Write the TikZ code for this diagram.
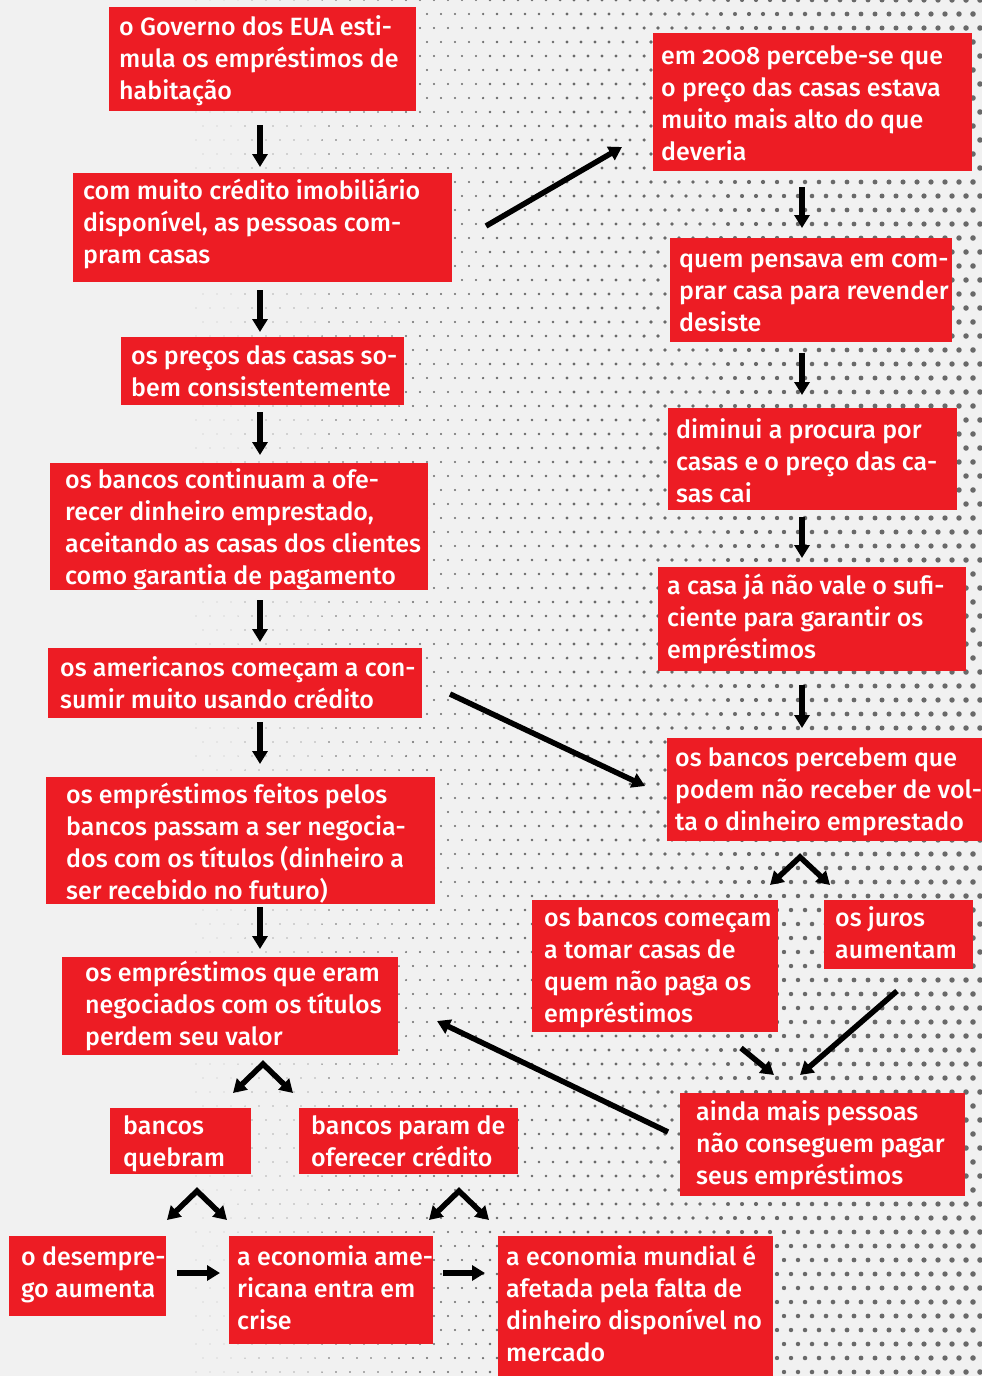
\documentclass[tikz,border=0pt]{standalone}
\usepackage{fontspec}
\setmainfont{Fira Sans}[UprightFont=* Medium, Numbers=OldStyle]
\usetikzlibrary{arrows.meta}
\definecolor{boxred}{RGB}{237,28,36}
\definecolor{bggray}{RGB}{241,241,241}
\definecolor{dotgray}{RGB}{105,105,105}
\tikzset{
  boxnode/.style={fill=boxred, inner sep=0pt, anchor=north west},
  txt/.style={anchor=base west, inner sep=0pt, text=white},
  arr/.style={line width=5.5pt, -{Triangle[width=15pt,length=13pt]}},
  fork/.style={line width=5.5pt, {Triangle[width=15pt,length=13pt]}-{Triangle[width=15pt,length=13pt]}},
}
\newcommand{\bx}[8]{%
  % #1 name, #2 x1, #3 y1, #4 x2, #5 y2, #6 text x, #7 first baseline y, #8 text
  \node[boxnode, minimum width={#4-#2}, minimum height={#5-#3}] (#1) at (#2,#3) {};
  \node[txt] (#1t) at (#6,#7) {\parbox[t]{500pt}{\fontsize{25}{32}\selectfont #8}};
}
\begin{document}
\begin{tikzpicture}[x=1pt,y=-1pt]
\fill[bggray] (0,0) rectangle (982,1376);
\useasboundingbox (0,0) rectangle (982,1376);
% halftone background
\foreach \j in {0,...,98}{
  \foreach \i in {0,...,70}{
    \pgfmathsetmacro\xx{\i*14+mod(\j,2)*7}
    \pgfmathsetmacro\rr{2.8*(\xx-80)/900}
    \ifdim\rr pt>0.35pt
      \fill[dotgray] (\xx,\j*14) circle (\rr pt);
    \fi
  }
}
% left column
\bx{b1}{109}{7}{416}{111}{119}{35}{o Governo dos EUA esti-\\mula os empréstimos de\\habitação}
\bx{b2}{73}{173}{452}{282}{83}{199}{com muito crédito imobiliário\\disponível, as pessoas com-\\pram casas}
\bx{b3}{121}{337}{404}{405}{131}{364}{os preços das casas so-\\bem consistentemente}
\bx{b4}{50}{463}{428}{590}{65}{488}{os bancos continuam a ofe-\\recer dinheiro emprestado,\\aceitando as casas dos clientes\\como garantia de pagamento}
\bx{b5}{48}{648}{422}{718}{60}{676}{os americanos começam a con-\\sumir muito usando crédito}
\bx{b6}{46}{777}{435}{904}{66}{803}{os empréstimos feitos pelos\\bancos passam a ser negocia-\\dos com os títulos (dinheiro a\\ser recebido no futuro)}
\bx{b7}{62}{957}{398}{1055}{85}{981}{os empréstimos que eram\\negociados com os títulos\\perdem seu valor}
\bx{b8}{110}{1108}{251}{1174}{123}{1134}{bancos\\quebram}
\bx{b9}{299}{1108}{518}{1174}{311}{1134}{bancos param de\\oferecer crédito}
\bx{b10}{9}{1236}{166}{1316}{21}{1265}{o desempre-\\go aumenta}
\bx{b11}{229}{1236}{433}{1344}{237}{1265}{a economia ame-\\ricana entra em\\crise}
\bx{b12}{498}{1236}{773}{1376}{506}{1265}{a economia mundial é\\afetada pela falta de\\dinheiro disponível no\\mercado}
% right column
\bx{b13}{653}{33}{972}{171}{661}{64}{em 2008 percebe-se que\\o preço das casas estava\\muito mais alto do que\\deveria}
\bx{b14}{670}{238}{952}{342}{679}{267}{quem pensava em com-\\prar casa para revender\\desiste}
\bx{b15}{668}{408}{957}{510}{676}{438}{diminui a procura por\\casas e o preço das ca-\\sas cai}
\bx{b16}{658}{567}{966}{671}{667}{594}{a casa já não vale o sufi-\\ciente para garantir os\\empréstimos}
\bx{b17}{667}{738}{982}{841}{675}{766}{os bancos percebem que\\podem não receber de vol-\\ta o dinheiro emprestado}
\bx{b18}{532}{900}{778}{1032}{544}{926}{os bancos começam\\a tomar casas de\\quem não paga os\\empréstimos}
\bx{b19}{824}{900}{973}{969}{835}{926}{os juros\\aumentam}
\bx{b20}{680}{1093}{965}{1196}{696}{1120}{ainda mais pessoas\\não conseguem pagar\\seus empréstimos}
% guide coordinates
\coordinate (lx) at (260,0);
\coordinate (rx) at (802,0);
% left vertical arrows
\draw[arr] ([yshift=-14pt]b1.south -| lx) -- ([yshift=6pt]b2.north -| lx);
\draw[arr] ([yshift=-8pt]b2.south -| lx) -- ([yshift=5pt]b3.north -| lx);
\draw[arr] ([yshift=-7pt]b3.south -| lx) -- ([yshift=8pt]b4.north -| lx);
\draw[arr] ([yshift=-10pt]b4.south -| lx) -- ([yshift=6pt]b5.north -| lx);
\draw[arr] ([yshift=-4pt]b5.south -| lx) -- ([yshift=13pt]b6.north -| lx);
\draw[arr] ([yshift=-3pt]b6.south -| lx) -- ([yshift=8pt]b7.north -| lx);
% right vertical arrows
\draw[arr] ([yshift=-16pt]b13.south -| rx) -- ([yshift=10pt]b14.north -| rx);
\draw[arr] ([yshift=-11pt]b14.south -| rx) -- ([yshift=13pt]b15.north -| rx);
\draw[arr] ([yshift=-7pt]b15.south -| rx) -- ([yshift=9pt]b16.north -| rx);
\draw[arr] ([yshift=-14pt]b16.south -| rx) -- ([yshift=10pt]b17.north -| rx);
% diagonal arrows
\coordinate (d1s) at (486,226); \coordinate (d1e) at (622,147);
\draw[arr] (d1s) -- (d1e);
\coordinate (d2s) at (450,694); \coordinate (d2e) at (645,786);
\draw[arr] (d2s) -- (d2e);
\coordinate (d3s) at (668,1132); \coordinate (d3e) at (437,1021);
\draw[arr] (d3s) -- (d3e);
\coordinate (d4s) at (741,1048); \coordinate (d4e) at (774,1075);
\draw[arr] (d4s) -- (d4e);
\coordinate (d5s) at (897,991); \coordinate (d5e) at (800,1075);
\draw[arr] (d5s) -- (d5e);
% forks
\coordinate (f1l) at (770,885); \coordinate (f1a) at (800,857); \coordinate (f1r) at (830,885);
\draw[fork] (f1l) -- (f1a) -- (f1r);
\coordinate (f2l) at (233,1093); \coordinate (f2a) at (263,1064); \coordinate (f2r) at (293,1093);
\draw[fork] (f2l) -- (f2a) -- (f2r);
\coordinate (f3l) at (167,1220); \coordinate (f3a) at (197,1191); \coordinate (f3r) at (227,1220);
\draw[fork] (f3l) -- (f3a) -- (f3r);
\coordinate (f4l) at (429,1220); \coordinate (f4a) at (459,1191); \coordinate (f4r) at (489,1220);
\draw[fork] (f4l) -- (f4a) -- (f4r);
% horizontal arrows
\draw[arr] ([xshift=11pt]b10.east |- 0,1273) -- ([xshift=-9pt]b11.west |- 0,1273);
\draw[arr] ([xshift=10pt]b11.east |- 0,1273) -- ([xshift=-13pt]b12.west |- 0,1273);
\end{tikzpicture}
\end{document}
